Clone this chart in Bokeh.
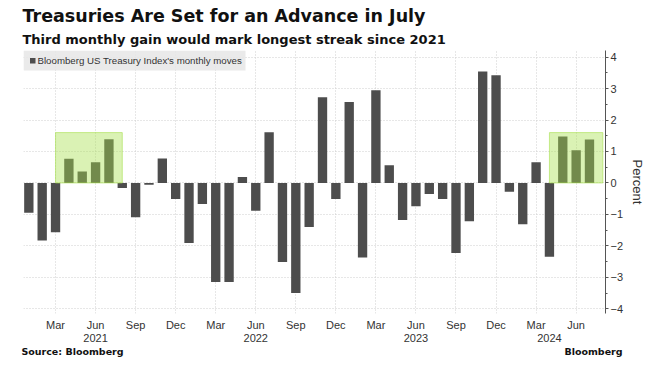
from bokeh.plotting import figure
from bokeh.models import (ColumnDataSource, Range1d, LinearAxis, FixedTicker, Title,
                          Label, BoxAnnotation)
from bokeh.embed import file_html
from bokeh.resources import INLINE

# ---- data -------------------------------------------------------------
start_year = 2021
values = [-0.95, -1.83, -1.57, 0.77, 0.36, 0.66, 1.39, -0.16, -1.09, -0.06, 0.78, -0.51,   # 2021
          -1.91, -0.67, -3.15, -3.15, 0.19, -0.88, 1.61, -2.51, -3.50, -1.40, 2.72, -0.51,   # 2022
          2.57, -2.37, 2.95, 0.56, -1.18, -0.74, -0.35, -0.51, -2.23, -1.22, 3.54, 3.42,    # 2023
          -0.28, -1.31, 0.66, -2.35, 1.48, 1.04, 1.38]                                       # 2024
series_name = "Bloomberg US Treasury Index's monthly moves"
title_text = "Treasuries Are Set for an Advance in July"
subtitle_text = "Third monthly gain would mark longest streak since 2021"
source_text = "Source: Bloomberg"
brand_text = "Bloomberg"
month_abbr = ["Jan", "Feb", "Mar", "Apr", "May", "Jun", "Jul", "Aug", "Sep", "Oct", "Nov", "Dec"]
tick_month_names = ["Mar", "Jun", "Sep", "Dec"]
year_labels = ["2021", "2022", "2023", "2024"]
year_anchor_months = ["2021-06", "2022-06", "2023-06", "2024-04"]
highlight_periods = [("2021-03", "2021-08"), ("2024-04", "2024-08")]
highlight_top = 1.6
y_ticks = [-4, -3, -2, -1, 0, 1, 2, 3, 4]


def month_index(key):
    y, m = key.split("-")
    return (int(y) - start_year) * 12 + int(m) - 1


x = list(range(len(values)))
month_names = [month_abbr[i % 12] for i in x]
source = ColumnDataSource(dict(x=x, v=values))

tick_pos = [i for i in x if month_names[i] in tick_month_names]
tick_over = {i: month_names[i] for i in tick_pos}
year_pos = [month_index(k) for k in year_anchor_months]
year_over = {p: lab for p, lab in zip(year_pos, year_labels)}

FONT = "Liberation Sans"
BOLD = "DejaVu Sans"
W, H = 655, 368
B_LEFT, B_RIGHT, B_TOP, B_BOTTOM = 23, 50, 50, 55
X0, X1, Y0, Y1 = -0.4, 43.2, -4.15, 4.21
FRAME_W = W - B_LEFT - B_RIGHT
FRAME_H = H - B_TOP - B_BOTTOM


def fx(px):  # frame-relative pixel -> data x
    return X0 + px * (X1 - X0) / FRAME_W


def fy(py):  # pixels below frame top -> data y
    return Y1 - py * (Y1 - Y0) / FRAME_H


p = figure(width=W, height=H, output_backend="svg", toolbar_location=None,
           x_range=Range1d(X0, X1), y_range=Range1d(Y0, Y1),
           y_axis_location="right", min_border_left=B_LEFT, min_border_right=B_RIGHT,
           min_border_top=B_TOP, min_border_bottom=B_BOTTOM)
p.title = None
p.outline_line_color = None

bars = p.vbar(x="x", top="v", width=0.7, bottom=0, source=source,
              fill_color="#4d4d4d", line_color=None)

for a, b in highlight_periods:
    p.add_layout(BoxAnnotation(left=month_index(a), right=month_index(b), bottom=0, top=highlight_top,
                               fill_color="#a6e04d", fill_alpha=0.42,
                               line_color="#a6e04d", line_alpha=0.6, line_width=1))

p.xgrid.ticker = FixedTicker(ticks=tick_pos)
p.ygrid.ticker = FixedTicker(ticks=y_ticks)
for g in (p.xgrid, p.ygrid):
    g.grid_line_color = "#cfcfcf"
    g.grid_line_dash = "1 2"
    g.grid_line_width = 1


def style_bottom(ax, standoff, size="11px", font=FONT, color="#333333"):
    ax.axis_line_color = None
    ax.major_tick_line_color = None
    ax.minor_tick_line_color = None
    ax.major_tick_out = 0
    ax.major_tick_in = 0
    ax.minor_tick_out = 0
    ax.major_label_standoff = standoff
    ax.major_label_text_font = font
    ax.major_label_text_font_size = size
    ax.major_label_text_color = color


xa = p.xaxis[0]
xa.ticker = FixedTicker(ticks=tick_pos)
xa.major_label_overrides = tick_over
style_bottom(xa, 5)

ya2 = LinearAxis(ticker=FixedTicker(ticks=year_pos), major_label_overrides=year_over)
style_bottom(ya2, 0)
p.add_layout(ya2, "below")

# footer row: source (left) and brand (right), centred on their anchors
foot_pos = [fx(49), fx(570)]
foot_axis = LinearAxis(ticker=FixedTicker(ticks=foot_pos),
                       major_label_overrides={foot_pos[0]: source_text, foot_pos[1]: brand_text})
style_bottom(foot_axis, 1, size="9.5px", font=BOLD, color="#111111")
foot_axis.major_label_text_font_style = "bold"
p.add_layout(foot_axis, "below")

yax = p.yaxis[0]
minor = [t + 0.5 for t in y_ticks[:-1]]
yax.ticker = FixedTicker(ticks=y_ticks, minor_ticks=minor)
yax.axis_line_color = "#555555"
yax.major_tick_line_color = "#555555"
yax.minor_tick_line_color = "#555555"
yax.major_tick_in = 0
yax.major_tick_out = 3
yax.minor_tick_in = 0
yax.minor_tick_out = 2
yax.major_label_standoff = 2
yax.major_label_text_font = FONT
yax.major_label_text_font_size = "11px"
yax.major_label_text_color = "#333333"
yax.axis_label = "Percent"
yax.axis_label_text_font = FONT
yax.axis_label_text_font_style = "normal"
yax.axis_label_text_font_size = "13px"
yax.axis_label_text_color = "#333333"
yax.axis_label_standoff = 4

# ---- legend (box + swatch + label, placed in frame pixels) ---------------
p.add_layout(BoxAnnotation(left=fx(0), right=fx(222), top=fy(0), bottom=fy(20),
                           fill_color="#e6e6e6", fill_alpha=0.85, line_color=None))
p.add_layout(BoxAnnotation(left=fx(6.5), right=fx(12), top=fy(7.5), bottom=fy(13),
                           fill_color="#4d4d4d", fill_alpha=1.0, line_color=None))
p.add_layout(Label(x=14, y=FRAME_H - 10, x_units="screen", y_units="screen",
                   text=series_name, text_font=FONT, text_font_size="9.7px",
                   text_color="#333333", text_baseline="middle"))

# ---- titles above ---------------------------------------------------------
p.add_layout(Title(text=subtitle_text, text_font=BOLD, text_font_size="13px",
                   text_font_style="bold", text_color="#111111", standoff=8, offset=-1), "above")
p.add_layout(Title(text=title_text, text_font=BOLD, text_font_size="17.5px",
                   text_font_style="bold", text_color="#111111", standoff=0, offset=-1), "above")

open("out.html", "w").write(file_html(p, INLINE))
